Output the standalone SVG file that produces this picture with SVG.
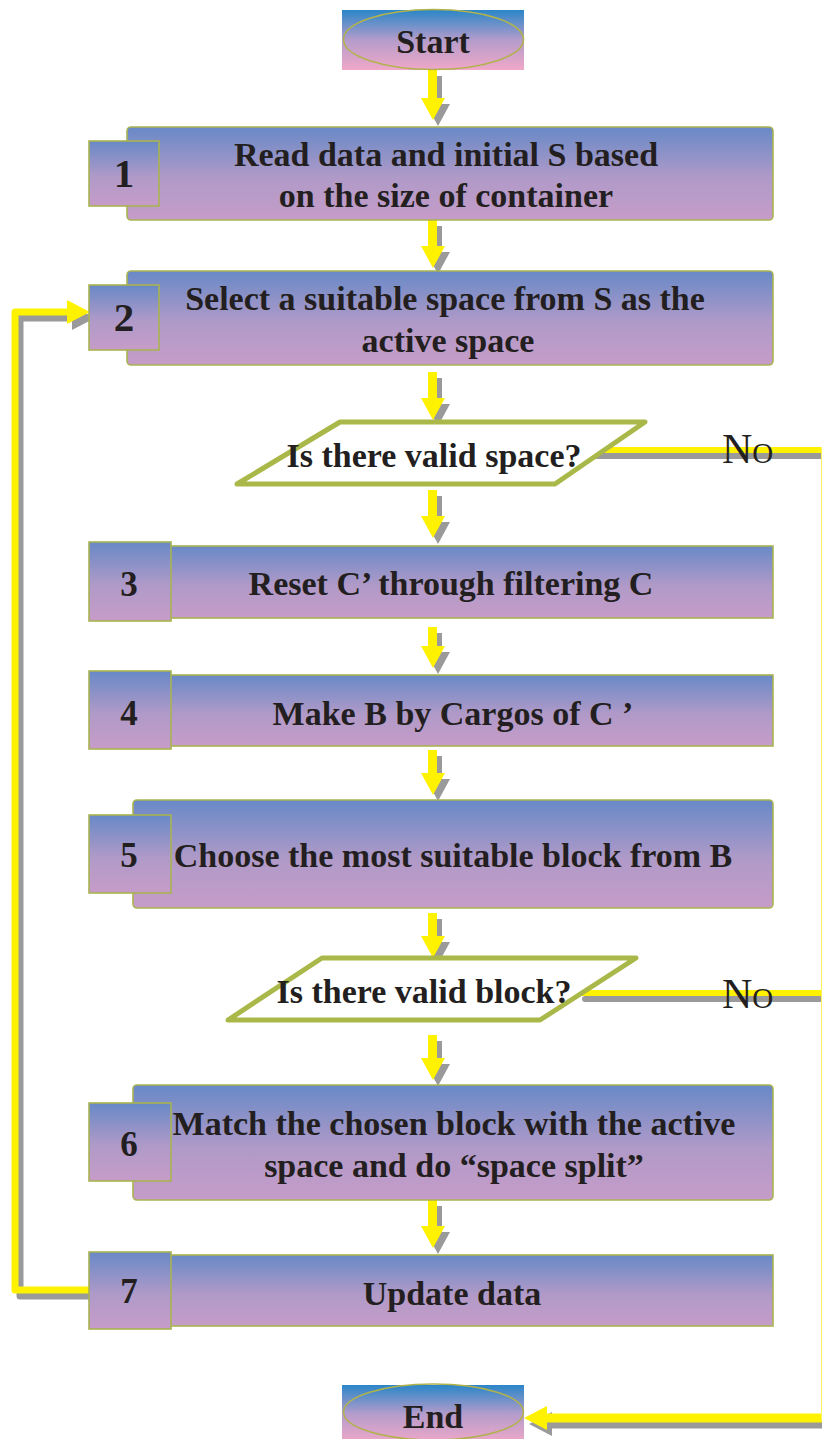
<svg xmlns="http://www.w3.org/2000/svg" xmlns:xlink="http://www.w3.org/1999/xlink" width="822" height="1439" viewBox="0 0 822 1439">
  <defs>
    <linearGradient id="gBox" x1="0" y1="0" x2="0" y2="1">
      <stop offset="0" stop-color="#6889c7"/>
      <stop offset="0.55" stop-color="#b09ac8"/>
      <stop offset="1" stop-color="#c69cc8"/>
    </linearGradient>
    <linearGradient id="gTerm" x1="0" y1="0" x2="0" y2="1">
      <stop offset="0" stop-color="#2a86c8"/>
      <stop offset="0.5" stop-color="#b49ccb"/>
      <stop offset="1" stop-color="#f0a8c8"/>
    </linearGradient>

    <!-- connector geometry, drawn twice: grey offset shadow, then yellow -->
    <path id="d0" d="M428,70 V98 H421 L433,120 L445,98 H437 V70 Z"/>
    <path id="d1" d="M428,220 V246 H421 L433,268 L445,246 H437 V220 Z"/>
    <path id="d2" d="M428,372 V398 H421 L433,420 L445,398 H437 V372 Z"/>
    <path id="d3" d="M428,490 V516 H421 L433,538 L445,516 H437 V490 Z"/>
    <path id="d4" d="M428,627 V646 H421 L433,668 L445,646 H437 V627 Z"/>
    <path id="d5" d="M428,750 V773 H421 L433,795 L445,773 H437 V750 Z"/>
    <path id="d6" d="M428,913 V936 H421 L433,958 L445,936 H437 V913 Z"/>
    <path id="d7" d="M428,1035 V1058 H421 L433,1080 L445,1058 H437 V1035 Z"/>
    <path id="d8" d="M428,1200 V1226 H421 L433,1248 L445,1226 H437 V1200 Z"/>
    <path id="noSpace" d="M590,450 H830"/>
    <path id="noBlock" d="M580,993 H830"/>
    <path id="toEnd" d="M830,1418 H545"/>
    <path id="toEndHead" d="M524,1418 L547,1406 L547,1430 Z"/>
    <path id="loop" d="M89,1290 H15 V312 H70"/>
    <path id="loopHead" d="M90,312 L67,300 L67,324 Z"/>
  </defs>

  <style>
    .box { fill: url(#gBox); stroke: #a9b352; stroke-width: 1.6; }
    .term { fill: url(#gTerm); }
    .oval { fill: none; stroke: #b0b24e; stroke-width: 1.5; }
    .dec { fill: #ffffff; stroke: #a9b848; stroke-width: 5; stroke-linejoin: round; }
    .txt { font-family: "Liberation Serif", "Times New Roman", serif; font-weight: bold; font-size: 34px; fill: #231f20; text-anchor: middle; }
    .num { font-size: 35px; }
    .big { font-size: 41px; }
    .no { font-family: "Liberation Serif", "Times New Roman", serif; font-size: 42px; font-variant: small-caps; fill: #231f20; }
    .fillA { stroke: none; }
    .line { fill: none; stroke-linecap: round; stroke-linejoin: round; }
    .shadow { fill: #9a9a9a; stroke: #9a9a9a; }
    .main { fill: #fff200; stroke: #fff200; }
  </style>

  <!-- connectors -->
  <g id="connectors">
    <g class="shadow" transform="translate(5,6)">
      <use href="#d0" class="fillA"/><use href="#d1" class="fillA"/><use href="#d2" class="fillA"/>
      <use href="#d3" class="fillA"/><use href="#d4" class="fillA"/><use href="#d5" class="fillA"/>
      <use href="#d6" class="fillA"/><use href="#d7" class="fillA"/><use href="#d8" class="fillA"/>
      <use href="#noSpace" class="line" style="fill:none" stroke-width="6"/>
      <use href="#noBlock" class="line" style="fill:none" stroke-width="6"/>
      <use href="#toEnd" class="line" style="fill:none" stroke-width="9"/>
      <use href="#toEndHead" class="fillA"/>
      <use href="#loop" class="line" style="fill:none" stroke-width="7"/>
      <use href="#loopHead" class="fillA"/>
    </g>
    <g class="main">
      <use href="#d0" class="fillA"/><use href="#d1" class="fillA"/><use href="#d2" class="fillA"/>
      <use href="#d3" class="fillA"/><use href="#d4" class="fillA"/><use href="#d5" class="fillA"/>
      <use href="#d6" class="fillA"/><use href="#d7" class="fillA"/><use href="#d8" class="fillA"/>
      <use href="#noSpace" class="line" style="fill:none" stroke-width="6"/>
      <use href="#noBlock" class="line" style="fill:none" stroke-width="6"/>
      <use href="#toEnd" class="line" style="fill:none" stroke-width="9"/>
      <use href="#toEndHead" class="fillA"/>
      <use href="#loop" class="line" style="fill:none" stroke-width="7"/>
      <use href="#loopHead" class="fillA"/>
    </g>
    <!-- return rail along the right edge, only its inner rim falls on the canvas -->
    <line x1="824" y1="447" x2="824" y2="1421" stroke="#fff35a" stroke-width="6"/>
    <text class="no" x="722" y="463">No</text>
    <text class="no" x="722" y="1008">No</text>
  </g>

  <!-- terminals -->
  <g id="start">
    <rect class="term" x="342" y="10" width="182" height="60"/>
    <ellipse class="oval" cx="433.5" cy="39.5" rx="90" ry="30"/>
    <text class="txt" x="433" y="53">Start</text>
  </g>

  <g id="end">
    <rect class="term" x="342" y="1385" width="182" height="58"/>
    <ellipse class="oval" cx="433.5" cy="1412" rx="90" ry="28"/>
    <text class="txt" x="433" y="1428">End</text>
  </g>

  <!-- process steps -->
  <g id="step1">
    <rect class="box" x="127" y="127" width="646" height="93" rx="4"/>
    <rect class="box" x="89" y="141" width="70" height="65"/>
    <text class="txt big" x="124" y="187">1</text>
    <text class="txt" x="446" y="166">Read data and initial S based</text>
    <text class="txt" x="446" y="207">on the size of container</text>
  </g>

  <g id="step2">
    <rect class="box" x="127" y="271" width="646" height="94" rx="4"/>
    <rect class="box" x="89" y="285" width="70" height="65"/>
    <text class="txt big" x="124" y="331">2</text>
    <text class="txt" x="445" y="310">Select a suitable space from S as the</text>
    <text class="txt" x="448" y="352">active space</text>
  </g>

  <g id="checkSpace">
    <polygon class="dec" points="340,422 645,422 555,484 237,484"/>
    <text class="txt" x="434" y="467">Is there valid space?</text>
  </g>

  <g id="step3">
    <rect class="box" x="170" y="546" width="603" height="72"/>
    <rect class="box" x="89" y="542" width="82" height="79"/>
    <text class="txt num" x="129" y="596">3</text>
    <text class="txt" x="451" y="595">Reset C’ through filtering C</text>
  </g>

  <g id="step4">
    <rect class="box" x="170" y="675" width="603" height="71"/>
    <rect class="box" x="89" y="671" width="82" height="78"/>
    <text class="txt num" x="129" y="725">4</text>
    <text class="txt" x="453" y="725">Make B by Cargos of C ’</text>
  </g>

  <g id="step5">
    <rect class="box" x="133" y="800" width="640" height="108" rx="4"/>
    <rect class="box" x="89" y="815" width="82" height="78"/>
    <text class="txt num" x="129" y="867">5</text>
    <text class="txt" x="453" y="867">Choose the most suitable block from B</text>
  </g>

  <g id="checkBlock">
    <polygon class="dec" points="322,958 636,958 540,1020 228,1020"/>
    <text class="txt" x="424" y="1003">Is there valid block?</text>
  </g>

  <g id="step6">
    <rect class="box" x="133" y="1085" width="640" height="115" rx="4"/>
    <rect class="box" x="89" y="1103" width="82" height="78"/>
    <text class="txt num" x="129" y="1156">6</text>
    <text class="txt" x="454" y="1135">Match the chosen block with the active</text>
    <text class="txt" x="454" y="1177">space and do “space split”</text>
  </g>

  <g id="step7">
    <rect class="box" x="170" y="1255" width="603" height="71"/>
    <rect class="box" x="89" y="1252" width="82" height="77"/>
    <text class="txt num" x="129" y="1303">7</text>
    <text class="txt" x="452" y="1305">Update data</text>
  </g>
</svg>
